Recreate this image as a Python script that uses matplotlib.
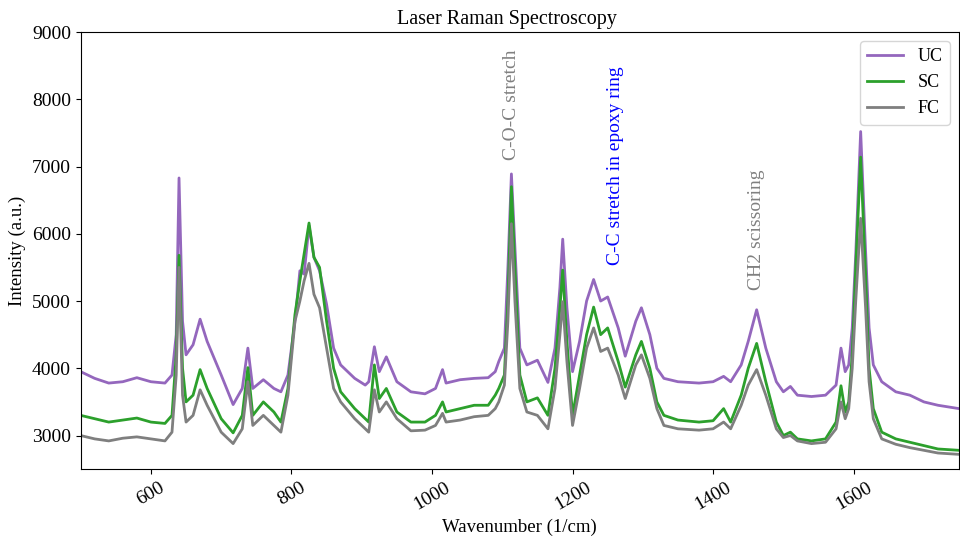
import matplotlib.pyplot as plt

plt.rcParams['font.family'] = ['Liberation Serif', 'DejaVu Serif']

# wavenumber sample points (1/cm)
wavenumber = [500, 520, 540, 560, 580, 600, 620, 630, 636, 640, 645, 650, 660, 670, 680,
              700, 717, 730, 738, 745, 760, 775, 785, 795, 805, 812, 818, 825, 832, 840,
              850, 860, 870, 890, 905, 910, 918, 925, 935, 950, 970, 990, 1005, 1015, 1020,
              1040, 1060, 1080, 1090, 1095, 1103, 1108, 1113, 1118, 1125, 1135, 1150, 1165,
              1175, 1182, 1186, 1192, 1200, 1210, 1220, 1230, 1240, 1250, 1265, 1275, 1290,
              1298, 1310, 1320, 1330, 1350, 1380, 1400, 1415, 1425, 1440, 1450, 1462, 1475,
              1490, 1500, 1510, 1520, 1540, 1560, 1575, 1582, 1588, 1593, 1598, 1603, 1610,
              1617, 1622, 1628, 1640, 1660, 1680, 1700, 1720, 1750]

uc = [3950, 3850, 3780, 3800, 3860, 3800, 3780, 3900, 4500, 6830, 4700, 4200, 4350, 4730, 4400,
      3900, 3460, 3700, 4300, 3700, 3830, 3700, 3650, 3900, 4700, 5450, 5400, 6120, 5650, 5450,
      4950, 4300, 4050, 3850, 3750, 3800, 4320, 3950, 4170, 3800, 3650, 3620, 3700, 3980, 3780,
      3830, 3850, 3860, 3950, 4100, 4300, 5500, 6890, 5800, 4300, 4050, 4120, 3790,
      4300, 5200, 5920, 4900, 3950, 4400, 5000, 5320, 5000, 5060, 4600, 4180, 4700,
      4900, 4500, 4000, 3850, 3800, 3780, 3800, 3880, 3800, 4050, 4400, 4870, 4300,
      3800, 3650, 3730, 3600, 3580, 3600, 3750, 4300, 3950, 4050, 4600, 5700, 7520,
      5750, 4600, 4050, 3800, 3650, 3600, 3500, 3450, 3400]

sc = [3300, 3250, 3200, 3230, 3260, 3200, 3180, 3300, 4200, 5680, 4000, 3500, 3600, 3980, 3700,
      3250, 3040, 3300, 4010, 3300, 3500, 3350, 3200, 3700, 4800, 5300, 5700, 6160, 5650, 5500,
      4700, 4000, 3650, 3400, 3250, 3200, 4050, 3550, 3700, 3350, 3200, 3200, 3300, 3500, 3350,
      3400, 3450, 3450, 3600, 3700, 3900, 5000, 6700, 5500, 3900, 3500, 3560, 3300,
      4000, 4900, 5460, 4400, 3300, 3900, 4500, 4910, 4500, 4600, 4100, 3720, 4200,
      4400, 4000, 3500, 3300, 3230, 3200, 3220, 3400, 3200, 3600, 4000, 4370, 3800,
      3200, 3000, 3050, 2950, 2920, 2950, 3200, 3740, 3350, 3500, 4200, 5500, 7140,
      5400, 4000, 3400, 3050, 2950, 2900, 2850, 2800, 2780]

fc = [3000, 2950, 2920, 2960, 2980, 2950, 2920, 3050, 3900, 5500, 3600, 3200, 3300, 3680, 3450,
      3050, 2880, 3100, 3800, 3150, 3300, 3150, 3050, 3600, 4700, 5000, 5300, 5560, 5100, 4900,
      4300, 3700, 3500, 3250, 3100, 3050, 3680, 3350, 3500, 3250, 3070, 3080, 3150, 3330, 3200,
      3230, 3280, 3300, 3400, 3500, 3750, 4700, 6150, 5000, 3700, 3350, 3300, 3100,
      3700, 4500, 4990, 4100, 3150, 3700, 4300, 4600, 4250, 4300, 3900, 3550, 4050,
      4200, 3850, 3400, 3150, 3100, 3080, 3100, 3200, 3100, 3450, 3750, 3980, 3600,
      3100, 2970, 3000, 2920, 2880, 2900, 3100, 3500, 3250, 3400, 4000, 5000, 6230,
      4900, 3800, 3250, 2950, 2870, 2820, 2780, 2740, 2720]

labels = ['UC', 'SC', 'FC']
colors = ['tab:purple', 'tab:green', 'tab:gray']

# peak annotations: text, wavenumber, intensity at text bottom, colour
notes = [('C-O-C stretch', 1113, 7100, 'grey'),
         ('C-C stretch in epoxy ring', 1261, 5540, 'blue'),
         ('CH2 scissoring', 1462, 5170, 'grey')]

fig = plt.figure(figsize=(9.6, 5.43), dpi=100)
ax = fig.add_axes([0.084, 0.136, 0.915, 0.805])

for y, lab, c in zip([uc, sc, fc], labels, colors):
    ax.plot(wavenumber, y, color=c, linewidth=2.0, label=lab)

for txt, x, y, c in notes:
    ax.text(x, y, txt, rotation=90, color=c, fontsize=14, ha='center', va='bottom')

ax.set_xlim(500, 1750)
ax.set_ylim(2500, 9000)
ax.set_xticks([600, 800, 1000, 1200, 1400, 1600])
ax.set_yticks([3000, 4000, 5000, 6000, 7000, 8000, 9000])
ax.tick_params(axis='x', labelsize=14, labelrotation=30)
ax.tick_params(axis='y', labelsize=14)
ax.set_xlabel('Wavenumber (1/cm)', fontsize=13.5)
ax.set_ylabel('Intensity (a.u.)', fontsize=13.5)
ax.set_title('Laser Raman Spectroscopy', fontsize=14.5, x=0.485)
ax.legend(loc='upper right', fontsize=13)

plt.savefig('out.png', dpi=100)
